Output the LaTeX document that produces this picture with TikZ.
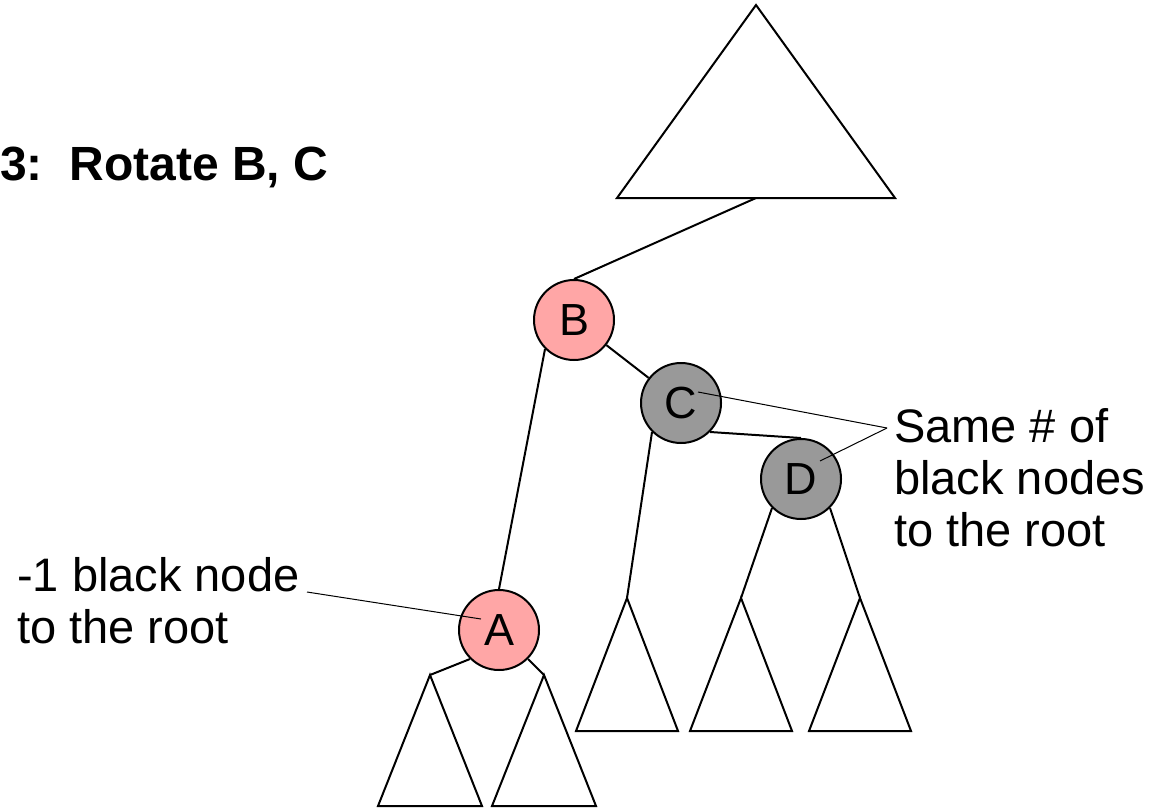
\documentclass[tikz,border=0pt]{standalone}
\usepackage{fontspec}
\setmainfont{Liberation Sans}
\definecolor{nodered}{HTML}{FFA6A6}
\definecolor{nodegray}{HTML}{999999}
\begin{document}
\begin{tikzpicture}[x=1pt,y=-1pt,
  edge/.style={line width=2pt},
  pointer/.style={line width=1pt},
  rbnode/.style={circle, draw, line width=2pt, minimum size=80pt, inner sep=0pt,
    font=\fontsize{45}{52}\selectfont},
  rednode/.style={rbnode, fill=nodered},
  blacknode/.style={rbnode, fill=nodegray},
  subtree/.style={draw, line width=2pt, line join=miter},
  note/.style={font=\fontsize{47}{52}\selectfont, align=left, inner sep=0pt, anchor=base west},
  heading/.style={font=\fontsize{48}{55}\selectfont\bfseries, inner sep=0pt, anchor=base west}
]
\useasboundingbox (0,0) rectangle (1155,808);

% title
\node[heading] (title) at (0,180) {3:\ \ Rotate B, C};

% upper part of the tree
\draw[subtree] (756,5) -- (895,198) -- (617,198) -- cycle;
\coordinate (top) at (756,198);

% tree nodes
\node[rednode]   (B) at (574,320) {B};
\node[blacknode] (C) at (681,403) {C};
\node[blacknode] (D) at (801,479) {D};
\node[rednode]   (A) at (499,630) {A};

% subtree apexes
\coordinate (sC)  at (627,598);
\coordinate (sD1) at (741,598);
\coordinate (sD2) at (860,598);
\coordinate (sA1) at (430,675);
\coordinate (sA2) at (544,675);

% subtrees
\draw[subtree] (sC)  -- ++(51,133) -- ++(-102,0) -- cycle;
\draw[subtree] (sD1) -- ++(51,133) -- ++(-102,0) -- cycle;
\draw[subtree] (sD2) -- ++(51,133) -- ++(-102,0) -- cycle;
\draw[subtree] (sA1) -- ++(52,131) -- ++(-104,0) -- cycle;
\draw[subtree] (sA2) -- ++(52,131) -- ++(-104,0) -- cycle;

% edges
\draw[edge] (top) -- (B.north);
\draw[edge] (B) -- (C);
\draw[edge] (B.south west) -- (A.north);
\draw[edge] (C.south east) -- (D.north);
\draw[edge] (C.south west) -- (sC);
\draw[edge] (D.south west) -- (sD1);
\draw[edge] (D.south east) -- (sD2);
\draw[edge] (A.south west) -- (sA1);
\draw[edge] (A.south east) -- (sA2);

% annotations (anchored at the baseline of the last line)
\node[note] (same) at (894,546) {Same \# of\\black nodes\\to the root};
\node[note] (less) at (17,643) {-1 black node\\to the root};

\coordinate (sameTip) at (887,428);
\coordinate (cPt) at (698,392);
\coordinate (dPt) at (820,461);
\coordinate (lessTip) at (307,592);
\coordinate (aPt) at (481,619);
\draw[pointer] (sameTip) -- (cPt);
\draw[pointer] (sameTip) -- (dPt);
\draw[pointer] (lessTip) -- (aPt);
\end{tikzpicture}
\end{document}
